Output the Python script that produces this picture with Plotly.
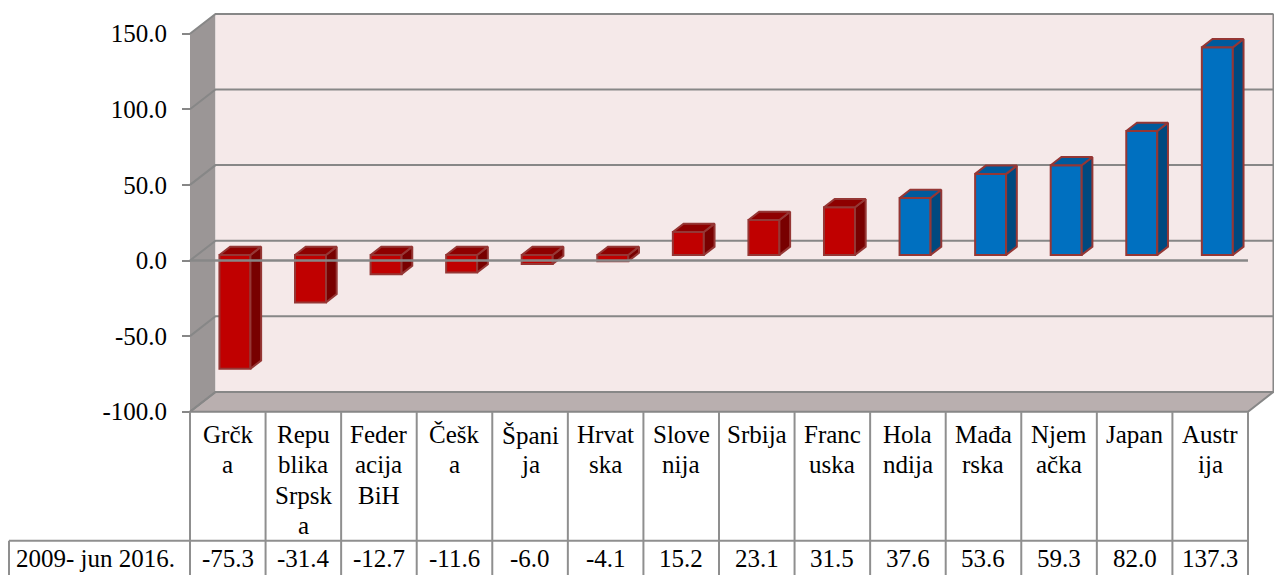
import plotly.graph_objects as go

# ---------------- data ----------------
categories = ["Grčka", "Republika Srpska", "Federacija BiH", "Češka", "Španija",
              "Hrvatska", "Slovenija", "Srbija", "Francuska", "Holandija",
              "Mađarska", "Njemačka", "Japan", "Austrija"]
label_lines = [["Grčk", "a"], ["Repu", "blika", "Srpsk", "a"], ["Feder", "acija", "BiH"],
               ["Češk", "a"], ["Špani", "ja"], ["Hrvat", "ska"], ["Slove", "nija"],
               ["Srbija"], ["Franc", "uska"], ["Hola", "ndija"], ["Mađa", "rska"],
               ["Njem", "ačka"], ["Japan"], ["Austr", "ija"]]
values = [-75.3, -31.4, -12.7, -11.6, -6.0, -4.1, 15.2, 23.1, 31.5, 37.6, 53.6, 59.3, 82.0, 137.3]
groups = ["A"] * 9 + ["B"] * 5
series_name = "2009- jun 2016."
ytick_vals = [-100, -50, 0, 50, 100, 150]
ytick_text = ["-100.0", "-50.0", "0.0", "50.0", "100.0", "150.0"]

# ---------------- style ----------------
palette = {
    "A": dict(front="#C00000", side="#780000", top="#8E0000"),
    "B": dict(front="#0070C0", side="#00497F", top="#005A9C"),
}
OUTLINE = "#953735"
GRID = "#878787"
TABLE = "#8f8f8f"
FONT = '"Liberation Serif", "Times New Roman", Times, serif'
FS = 25

W, H = 1274, 575
COL = 75.57      # px per category
X0 = 190.0       # px of category 0 left edge
Y0 = 260.5       # px of value 0
K = 1.512        # px per unit


def ux(px):
    return (px - X0) / COL


def vy(px):
    return (Y0 - px) / K


N = len(categories)
YMIN, YMAX = ytick_vals[0], ytick_vals[-1]
DX = 25.5 / COL
DY = 19.8 / K
F0, FD, BW = 0.28, 0.42, 0.41

fig = go.Figure()

# ---------------- walls (shapes below traces) ----------------
shapes = []
shapes.append(dict(type="path", xref="x", yref="y", layer="below",
                   path=f"M 0,{YMIN} L 0,{YMAX} L {DX},{YMAX+DY} L {DX},{YMIN+DY} Z",
                   fillcolor="#9B9696", line=dict(width=0)))
shapes.append(dict(type="rect", xref="x", yref="y", layer="below",
                   x0=DX, x1=N + DX, y0=YMIN + DY, y1=YMAX + DY,
                   fillcolor="#F5E9E9", line=dict(width=0)))
shapes.append(dict(type="path", xref="x", yref="y", layer="below",
                   path=f"M 0,{YMIN} L {DX},{YMIN+DY} L {N+DX},{YMIN+DY} L {N},{YMIN} Z",
                   fillcolor="#B9AFAF", line=dict(color=GRID, width=2)))
for t in ytick_vals:
    shapes.append(dict(type="path", xref="x", yref="y", layer="below",
                       path=f"M 0,{t} L {DX},{t+DY} L {N+DX},{t+DY}",
                       line=dict(color=GRID, width=2)))
shapes.append(dict(type="line", xref="x", yref="y", layer="below",
                   x0=N + DX, x1=N + DX, y0=YMIN + DY, y1=YMAX + DY,
                   line=dict(color=GRID, width=2)))

# ---------------- bars ----------------
xc = [i + 0.5 + F0 * DX for i in range(N)]
base = F0 * DY
fig.add_trace(go.Bar(
    x=xc, y=values, base=base, width=BW,
    marker=dict(color=[palette[g]["front"] for g in groups],
                line=dict(color=OUTLINE, width=2)),
    hoverinfo="skip", showlegend=False))

ddx, ddy = FD * DX, FD * DY
for i, v in enumerate(values):
    c = palette[groups[i]]
    xl, xr = xc[i] - BW / 2, xc[i] + BW / 2
    b, t = base, v + base
    # side face
    fig.add_trace(go.Scatter(
        x=[xr, xr, xr + ddx, xr + ddx, xr], y=[b, t, t + ddy, b + ddy, b],
        mode="lines", fill="toself", fillcolor=c["side"],
        line=dict(color=OUTLINE, width=2), hoverinfo="skip", showlegend=False))
    # top face
    yt = max(b, t)
    fig.add_trace(go.Scatter(
        x=[xl, xr, xr + ddx, xl + ddx, xl], y=[yt, yt, yt + ddy, yt + ddy, yt],
        mode="lines", fill="toself", fillcolor=c["top"],
        line=dict(color=OUTLINE, width=2), hoverinfo="skip", showlegend=False))

# front zero axis line
fig.add_trace(go.Scatter(x=[0, N], y=[0, 0], mode="lines",
                         line=dict(color=GRID, width=2.5),
                         hoverinfo="skip", showlegend=False))

# ---------------- data table ----------------
ybot = vy(H + 5)
yrow = vy(540.7)
for k in range(N + 1):
    shapes.append(dict(type="line", xref="x", yref="y", layer="above",
                       x0=k, x1=k, y0=YMIN, y1=ybot, line=dict(color=TABLE, width=2)))
shapes.append(dict(type="line", xref="x", yref="y", layer="above",
                   x0=ux(9), x1=N, y0=yrow, y1=yrow, line=dict(color=TABLE, width=2)))
shapes.append(dict(type="line", xref="x", yref="y", layer="above",
                   x0=ux(9), x1=ux(9), y0=yrow, y1=ybot, line=dict(color=TABLE, width=2)))

annotations = []
for i, lines in enumerate(label_lines):
    for j, s in enumerate(lines):
        annotations.append(dict(x=i + 0.5, y=vy(443 + 30.3 * j - 8.5), xref="x", yref="y",
                                text=s, showarrow=False, xanchor="center", yanchor="middle",
                                font=dict(family=FONT, size=FS, color="black")))
    annotations.append(dict(x=i + 0.5, y=vy(567 - 8.5), xref="x", yref="y",
                            text=f"{values[i]:.1f}", showarrow=False,
                            xanchor="center", yanchor="middle",
                            font=dict(family=FONT, size=FS, color="black")))
annotations.append(dict(x=ux(95), y=vy(567 - 8.5), xref="x", yref="y",
                        text=series_name, showarrow=False,
                        xanchor="center", yanchor="middle",
                        font=dict(family=FONT, size=FS, color="black")))

fig.update_layout(
    width=W, height=H, margin=dict(l=0, r=0, t=0, b=0),
    paper_bgcolor="white", plot_bgcolor="white",
    font=dict(family=FONT, size=FS, color="black"),
    shapes=shapes, annotations=annotations, showlegend=False,
    xaxis=dict(range=[ux(0), ux(W)], visible=False, domain=[0, 1]),
    yaxis=dict(range=[vy(H), vy(0)], domain=[0, 1], anchor="free", position=X0 / W,
               tickvals=ytick_vals, ticktext=ytick_text, ticks="outside", ticklen=8,
               tickwidth=2, tickcolor=GRID, showgrid=False, zeroline=False,
               showline=False, ticklabelstandoff=10,
               tickfont=dict(family=FONT, size=FS, color="black")),
)

fig.write_html("out.html",
               config={"displayModeBar": False},
               post_script="document.body.style.margin='0px';document.body.style.overflow='hidden';")
